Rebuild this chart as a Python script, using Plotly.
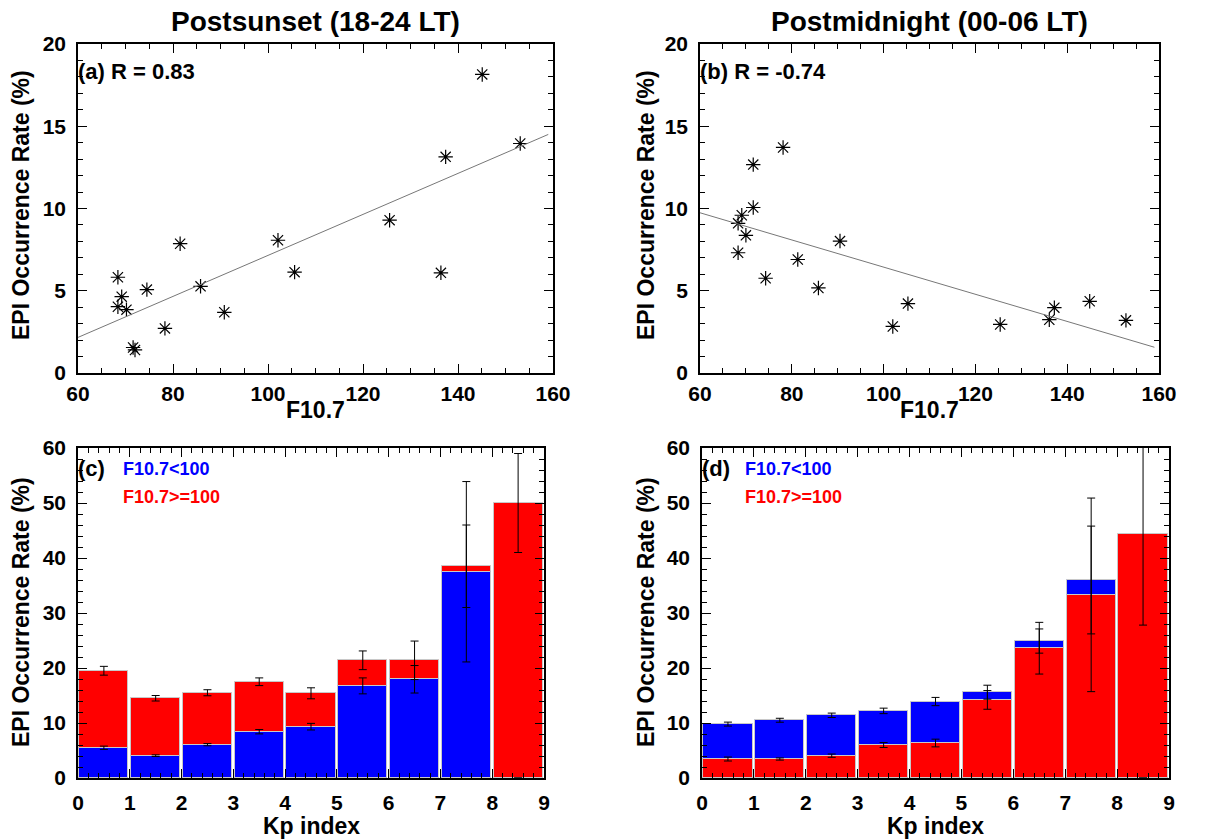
import numpy as np
import plotly.graph_objects as go

# ---------------- data ----------------
f107 = [68.4, 69.2, 68.4, 70.2, 71.6, 72.0, 74.5, 78.3, 81.5, 85.8, 90.8,
        102.1, 105.6, 125.6, 136.4, 137.4, 145.1, 153.1]
rate_postsunset = [5.82, 4.64, 4.03, 3.85, 1.55, 1.40, 5.07, 2.71, 7.86, 5.27, 3.69,
                   8.07, 6.13, 9.29, 6.09, 13.14, 18.15, 13.95]
f107_b = [68.3, 69.1, 68.3, 70.0, 71.6, 71.6, 74.3, 78.1, 81.3, 85.8, 90.5,
          102.0, 105.3, 125.4, 136.1, 137.2, 144.9, 152.8]
rate_postmidnight = [9.10, 9.59, 7.31, 8.37, 12.67, 10.06, 5.76, 13.71, 6.90, 5.17, 8.02,
                     2.83, 4.22, 2.95, 3.24, 3.97, 4.36, 3.20]

kp_bins = [0, 1, 2, 3, 4, 5, 6, 7, 8]

# panel (c) postsunset
c_low = [5.5, 4.06, 6.06, 8.42, 9.33, 16.75, 17.95, 37.5, 0.0]
c_low_err = [0.3, 0.15, 0.2, 0.4, 0.6, 1.45, 2.5, 16.4, 0.0]
c_high = [19.5, 14.5, 15.5, 17.5, 15.4, 21.4, 21.4, 38.5, 50.0]
c_high_err = [0.8, 0.5, 0.55, 0.7, 1.0, 1.7, 3.5, 7.5, 9.0]

# panel (d) postmidnight
d_low = [9.8, 10.5, 11.4, 12.2, 13.9, 15.6, 24.9, 36.0, 0.0]
d_low_err = [0.36, 0.36, 0.4, 0.5, 0.75, 1.27, 2.2, 9.8, 0.0]
d_high = [3.45, 3.45, 4.06, 6.0, 6.36, 14.2, 23.6, 33.3, 44.4]
d_high_err = [0.36, 0.2, 0.3, 0.45, 0.7, 1.7, 4.7, 17.6, 16.6]

titles = ["Postsunset (18-24 LT)", "Postmidnight (00-06 LT)"]
labels_scatter = ["(a) R = 0.83", "(b) R = -0.74"]

BLUE = "#0000ff"
RED = "#ff0000"
FONT = "Liberation Sans"
W, H = 1220, 839


def px_x(p):
    return p / W


def px_y(p):
    return 1 - p / H


fig = go.Figure()

# ---------------- scatter panels ----------------
for i, (fx, yy, xa, ya) in enumerate([(f107, rate_postsunset, "x", "y"),
                                       (f107_b, rate_postmidnight, "x2", "y2")]):
    fig.add_trace(go.Scatter(x=fx, y=yy, mode="markers", xaxis=xa, yaxis=ya,
                             marker=dict(symbol="asterisk-open", size=12, color="black",
                                         line=dict(color="black", width=1.2)),
                             showlegend=False))
    coef = np.polyfit(fx, yy, 1)
    xl = np.array([60, 159])
    fig.add_trace(go.Scatter(x=xl, y=np.polyval(coef, xl), mode="lines",
                             xaxis=xa, yaxis=ya,
                             line=dict(color="#777777", width=1), showlegend=False))

# ---------------- bar panels ----------------
xc = [k + 0.5 for k in kp_bins]
bar_line = dict(color="#c8c8c8", width=1)


def add_bars(vals, color, xa, ya):
    fig.add_trace(go.Bar(x=xc, y=vals, width=0.95, xaxis=xa, yaxis=ya,
                         marker=dict(color=color, line=bar_line), showlegend=False))


def add_err(vals, errs, xa, ya):
    fig.add_trace(go.Scatter(x=xc, y=vals, mode="markers", xaxis=xa, yaxis=ya,
                             marker=dict(size=1, color="rgba(0,0,0,0)"),
                             error_y=dict(type="data", array=errs, visible=True,
                                          color="black", thickness=1, width=4),
                             showlegend=False))


# (c): red behind, blue in front
add_bars(c_high, RED, "x3", "y3")
add_bars(c_low, BLUE, "x3", "y3")
add_err(c_high, c_high_err, "x3", "y3")
add_err(c_low, c_low_err, "x3", "y3")
# (d): blue behind, red in front
add_bars(d_low, BLUE, "x4", "y4")
add_bars(d_high, RED, "x4", "y4")
add_err(d_low, d_low_err, "x4", "y4")
add_err(d_high, d_high_err, "x4", "y4")

# ---------------- axes ----------------
tickfont = dict(family=FONT, size=21, color="black", weight="bold")


def axis_common():
    return dict(showline=True, linecolor="black", linewidth=1.5, mirror="ticks",
                ticks="inside", ticklen=9, tickwidth=1.2, tickcolor="black",
                showgrid=False, zeroline=False, tickfont=tickfont,
                automargin=False, fixedrange=True)


top = (px_y(373), px_y(44))
bot = (px_y(778), px_y(448))
doms = {
    "a": (px_x(78), px_x(553)),
    "b": (px_x(700), px_x(1159)),
    "c": (px_x(78), px_x(544)),
    "d": (px_x(702), px_x(1169)),
}

layout_axes = {}
for n, key, ydom in [("", "a", top), ("2", "b", top), ("3", "c", bot), ("4", "d", bot)]:
    xa = axis_common()
    ya = axis_common()
    xa["domain"] = doms[key]
    ya["domain"] = ydom
    xa["anchor"] = "y" + n
    ya["anchor"] = "x" + n
    ya["ticklabelstandoff"] = 6
    if key in ("a", "b"):
        xa["ticklabelstandoff"] = 1
        xa.update(range=[60, 160], tick0=60, dtick=20,
                  minor=dict(dtick=5, ticks="inside", ticklen=5, tickcolor="black"))
        ya.update(range=[0, 20], tick0=0, dtick=5,
                  minor=dict(dtick=1, ticks="inside", ticklen=5, tickcolor="black"))
    else:
        xa["ticklabelstandoff"] = 5
        xa.update(range=[0, 9], tick0=0, dtick=1,
                  minor=dict(dtick=0.2, ticks="inside", ticklen=5, tickcolor="black"))
        ya.update(range=[0, 60], tick0=0, dtick=10,
                  minor=dict(dtick=2, ticks="inside", ticklen=5, tickcolor="black"))
    layout_axes["xaxis" + n] = xa
    layout_axes["yaxis" + n] = ya

fig.update_layout(**layout_axes)

# ---------------- text ----------------
ann = []
bold = lambda s: "<b>" + s + "</b>"
for txt, cx in [(titles[0], 315.5), (titles[1], 929.5)]:
    ann.append(dict(text=bold(txt), x=px_x(cx), y=px_y(22), xref="paper", yref="paper",
                    showarrow=False, xanchor="center", yanchor="middle",
                    font=dict(family=FONT, size=28, color="black")))
for txt, x0 in [(labels_scatter[0], 76), (labels_scatter[1], 698)]:
    ann.append(dict(text=bold(txt), x=px_x(x0), y=px_y(71), xref="paper", yref="paper",
                    showarrow=False, xanchor="left", yanchor="middle",
                    font=dict(family=FONT, size=22, color="black")))
for lab, x0, xl in [("(c)", 76, 121), ("(d)", 700, 743)]:
    ann.append(dict(text=bold(lab), x=px_x(x0), y=px_y(468), xref="paper", yref="paper",
                    showarrow=False, xanchor="left", yanchor="middle",
                    font=dict(family=FONT, size=22, color="black")))
    ann.append(dict(text=bold("F10.7&lt;100"), x=px_x(xl), y=px_y(469), xref="paper",
                    yref="paper", showarrow=False, xanchor="left", yanchor="middle",
                    font=dict(family=FONT, size=18, color=BLUE)))
    ann.append(dict(text=bold("F10.7&gt;=100"), x=px_x(xl), y=px_y(497), xref="paper",
                    yref="paper", showarrow=False, xanchor="left", yanchor="middle",
                    font=dict(family=FONT, size=18, color=RED)))
# axis titles
for txt, cx, cy in [("F10.7", 315.5, 410), ("F10.7", 929.5, 410),
                    ("Kp index", 311, 826), ("Kp index", 935.5, 826)]:
    ann.append(dict(text=bold(txt), x=px_x(cx), y=px_y(cy), xref="paper", yref="paper",
                    showarrow=False, xanchor="center", yanchor="middle",
                    font=dict(family=FONT, size=23, color="black")))
for cx, cy in [(21, 205), (646, 205), (21, 612), (646, 612)]:
    ann.append(dict(text=bold("EPI Occurrence Rate (%)"), x=px_x(cx), y=px_y(cy),
                    xref="paper", yref="paper", showarrow=False, textangle=-90,
                    xanchor="center", yanchor="middle",
                    font=dict(family=FONT, size=23, color="black")))

fig.update_layout(width=W, height=H, margin=dict(l=0, r=0, t=0, b=0),
                  paper_bgcolor="white", plot_bgcolor="white",
                  barmode="overlay", bargap=0, annotations=ann, showlegend=False)

fig.write_html("out.html", config={"displayModeBar": False},
               post_script="document.body.style.margin='0';document.body.style.overflow='hidden';")
